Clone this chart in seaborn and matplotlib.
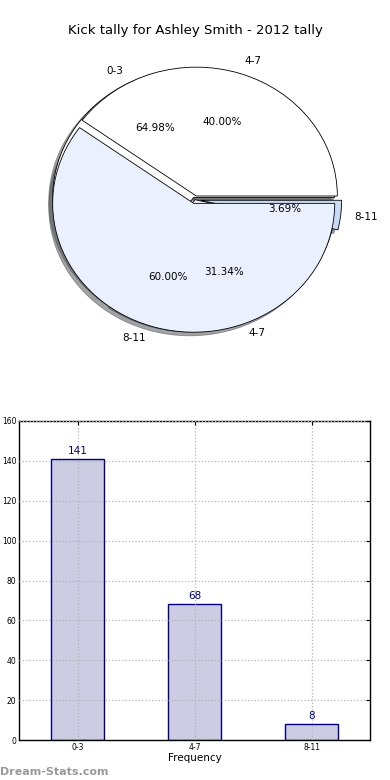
import matplotlib
matplotlib.use("Agg")
import matplotlib.pyplot as plt
import seaborn as sns

# Datos del gráfico
categorias = ["0-3", "4-7", "8-11"]
frecuencias = [141, 68, 8]

# segunda tarta superpuesta (40% / 60%)
categorias_b = ["4-7", "8-11"]
porcentajes_b = [40.0, 60.0]

titulo = "Kick tally for Ashley Smith - 2012 tally"

sns.set_style("white")
plt.rcParams["font.family"] = ["DejaVu Sans"]
plt.rcParams["text.color"] = "black"
plt.rcParams["axes.labelcolor"] = "black"
plt.rcParams["xtick.color"] = "black"
plt.rcParams["ytick.color"] = "black"

fig = plt.figure(figsize=(3.9, 7.8), dpi=100)

# ---------------------------------------------------------------------------
# Tarta (dos tartas superpuestas)
# ---------------------------------------------------------------------------
ax_pie = fig.add_axes([0.048, 0.5375, 0.904, 0.413])
ax_pie.pie(frecuencias, labels=categorias, autopct="%.2f%%",
           colors=["white", "#eef2fc", "#c8daf6"],
           explode=(0.02, 0.0, 0.04), shadow=True,
           wedgeprops={"edgecolor": "black", "linewidth": 0.6},
           textprops={"fontsize": 7.5})
ax_pie.pie(porcentajes_b, labels=categorias_b, autopct="%.2f%%",
           colors=["white", "#eaf0fd"],
           explode=(0.03, 0.03), shadow=True,
           wedgeprops={"edgecolor": "black", "linewidth": 0.6},
           textprops={"fontsize": 7.5})
ax_pie.set_aspect("auto")
ax_pie.set_xlim(-1.25, 1.25)
ax_pie.set_ylim(-1.25, 1.25)

fig.text(0.5, 0.961, titulo, ha="center", va="center", fontsize=9.5)

# ---------------------------------------------------------------------------
# Barras
# ---------------------------------------------------------------------------
ax_bar = fig.add_axes([19 / 390, 40 / 780, 351 / 390, 319 / 780])
sns.barplot(x=categorias, y=frecuencias, ax=ax_bar, width=0.45,
            color="#cccce3", saturation=1, edgecolor="navy", linewidth=1.0)
for i, v in enumerate(frecuencias):
    ax_bar.text(i, v + 1.5, str(v), ha="center", va="bottom",
                color="navy", fontsize=7.5)

ax_bar.set_xlim(-0.5, 2.5)
ax_bar.set_ylim(0, 160)
ax_bar.set_yticks(range(0, 161, 20))
ax_bar.grid(True, linestyle=":", color="#b5b5b5", linewidth=0.9)
ax_bar.set_axisbelow(False)
ax_bar.tick_params(labelsize=5.5, direction="in", top=True, right=True,
                   length=3, pad=2)
ax_bar.set_xlabel("Frequency", fontsize=7.5, labelpad=1)
ax_bar.set_ylabel("")
for s in ax_bar.spines.values():
    s.set_color("black")
    s.set_linewidth(1.0)

fig.text(0.0, 0.01, "Dream-Stats.com", color="#999999", fontsize=8,
         fontweight="bold", ha="left", va="center")

plt.savefig("out.png", dpi=100)
plt.close()
